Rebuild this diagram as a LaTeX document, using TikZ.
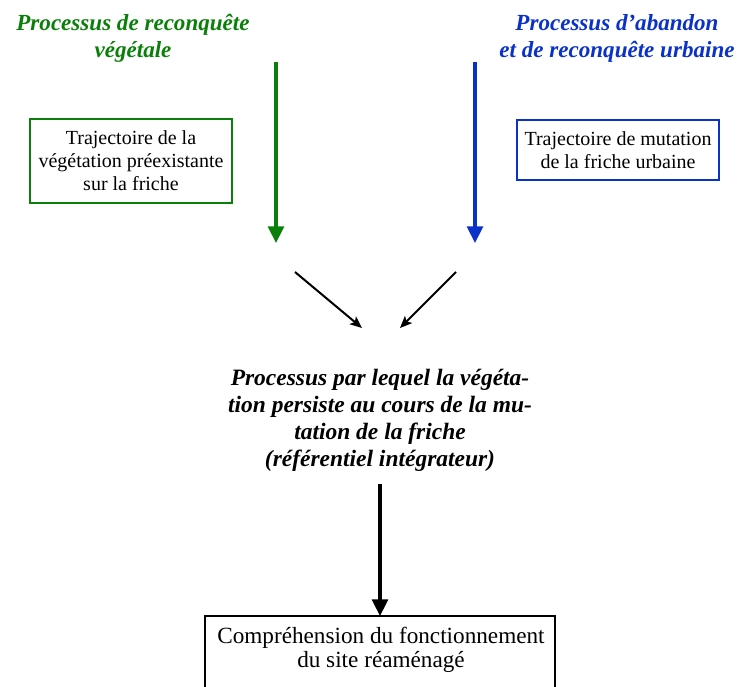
\documentclass[tikz,border=0pt]{standalone}
\usepackage{fontspec}
\setmainfont{Liberation Serif}
\usetikzlibrary{arrows.meta}
\definecolor{vgreen}{RGB}{10,128,10}
\definecolor{ublue}{RGB}{10,50,200}
\begin{document}
\begin{tikzpicture}[x=0.75pt,y=-0.75pt,
  title/.style={font=\fontsize{17.3}{20}\selectfont\bfseries\itshape, align=center, inner sep=0pt},
  body/.style={font=\fontsize{15}{17.3}\selectfont, align=center, inner sep=0pt},
  framebox/.style={draw, line width=1.5pt},
  bigarrow/.style={line width=2.3pt, -{Triangle[width=12pt,length=12.5pt]}},
  thinarrow/.style={line width=1.5pt, -{Stealth[width=7.5pt,length=9pt,inset=2pt]}}]
\useasboundingbox (0,0) rectangle (738,686);
% titles
\node[title, text=vgreen] (tg) at (133,38.5) {Processus de reconquête\\végétale};
\node[title, text=ublue] (tb) at (617,38.5) {Processus d’abandon\\et de reconquête urbaine};
% boxes
\node[framebox, draw=vgreen, minimum width=202*0.75pt, minimum height=84*0.75pt, body] (bg) at (131,161)
  {Trajectoire de la\\végétation préexistante\\sur la friche};
\node[framebox, draw=ublue, minimum width=202*0.75pt, minimum height=60*0.75pt, body] (bb) at (618,150)
  {Trajectoire de mutation\\de la friche urbaine};
% vertical arrows
\coordinate (g1) at (276,62); \coordinate (g2) at (276,243);
\coordinate (b1) at (475,62); \coordinate (b2) at (475,243);
\draw[bigarrow, vgreen] (g1) -- (g2);
\draw[bigarrow, ublue] (b1) -- (b2);
% diagonal arrows
\coordinate (d1) at (295,272); \coordinate (d2) at (362,328);
\coordinate (e1) at (456,272); \coordinate (e2) at (400,328);
\draw[thinarrow] (d1) -- (d2);
\draw[thinarrow] (e1) -- (e2);
% middle text
\node[title, font=\fontsize{17.6}{20.3}\selectfont\bfseries\itshape] (mid) at (380,420)
  {Processus par lequel la végéta-\\tion persiste au cours de la mu-\\tation de la friche\\(référentiel intégrateur)};
% bottom box
\coordinate (m1) at (380,484);
\node[body, font=\fontsize{17.4}{18}\selectfont] (bot) at (381,650)
  {Compréhension du fonctionnement\\du site réaménagé};
\draw[line width=1.5pt] (205,700) -- (205,616) -- (555,616) -- (555,700);
\coordinate (m2) at (380,616);
\draw[bigarrow, black] (m1) -- (m2);
\end{tikzpicture}
\end{document}
